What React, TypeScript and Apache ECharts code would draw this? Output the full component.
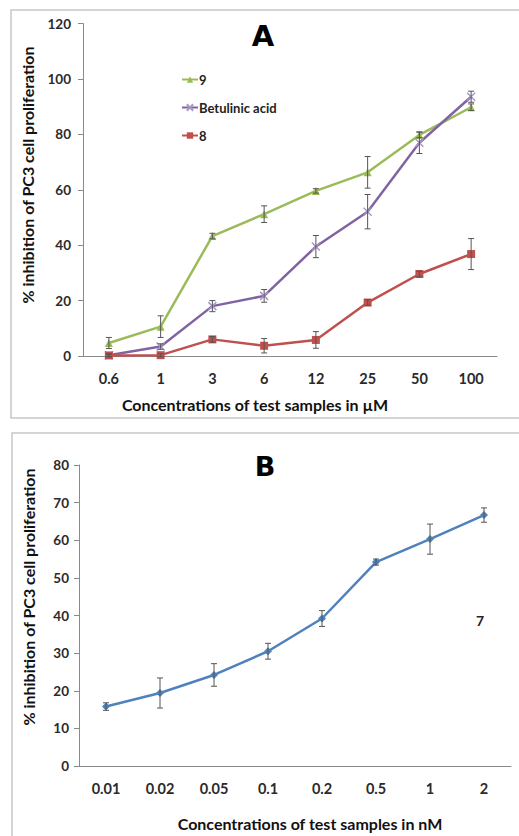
import React, { useEffect, useRef } from "react";
import * as echarts from "echarts";

const catsA = ["0.6", "1", "3", "6", "12", "25", "50", "100"];
const s9 = [4.7, 10.6, 43.3, 51.2, 59.6, 66.3, 79.8, 89.8];
const s9Err = [2.0, 3.9, 1.0, 3.0, 0.8, 5.7, 1.0, 1.2];
const sBA = [0.3, 3.4, 18, 21.7, 39.5, 52.1, 77, 93.6];
const sBAErr = [0.5, 1, 2, 2.3, 4, 6.2, 3.9, 2];
const s8 = [0.2, 0.3, 6, 3.7, 5.8, 19.3, 29.6, 36.8];
const s8Err = [0.5, 0.5, 1, 2.6, 3, 1, 1, 5.6];
const catsB = ["0.01", "0.02", "0.05", "0.1", "0.2", "0.5", "1", "2"];
const s7 = [15.8, 19.4, 24.2, 30.5, 39.2, 54.2, 60.3, 66.7];
const s7Err = [1, 4, 3, 2.1, 2.1, 0.8, 4, 1.9];

const FONT = "Lato";
const TXT = "#2a2a2a";
const AX = "#8a8a8a";

function errData(vals: number[], errs: number[]) {
  return vals.map((v, i) => [i, v - errs[i], v + errs[i]]);
}

function errSeries(xi: number, vals: number[], errs: number[]) {
  return {
    type: "custom",
    xAxisIndex: xi,
    yAxisIndex: xi,
    z: 5,
    silent: true,
    data: errData(vals, errs),
    renderItem: (params: any, api: any) => {
      const x = api.value(0);
      const lo = api.coord([x, api.value(1)]);
      const hi = api.coord([x, api.value(2)]);
      const st = { stroke: "#555", lineWidth: 1 };
      return {
        type: "group",
        children: [
          { type: "line", shape: { x1: lo[0], y1: lo[1], x2: hi[0], y2: hi[1] }, style: st },
          { type: "line", shape: { x1: lo[0] - 3, y1: lo[1], x2: lo[0] + 3, y2: lo[1] }, style: st },
          { type: "line", shape: { x1: hi[0] - 3, y1: hi[1], x2: hi[0] + 3, y2: hi[1] }, style: st },
        ],
      };
    },
  };
}

function xAxis(gi: number, cats: string[]) {
  return {
    type: "category",
    gridIndex: gi,
    data: cats,
    boundaryGap: true,
    axisLine: { lineStyle: { color: AX, width: 1 } },
    axisTick: { length: 5, lineStyle: { color: AX } },
    axisLabel: { color: TXT, fontFamily: FONT, fontWeight: "bold", fontSize: 14.5, margin: 15 },
  };
}

function yAxis(gi: number, max: number, interval: number, margin: number) {
  return {
    type: "value",
    gridIndex: gi,
    min: 0,
    max,
    interval,
    splitLine: { show: false },
    axisLine: { show: true, lineStyle: { color: AX, width: 1 } },
    axisTick: { show: true, length: 5, lineStyle: { color: AX } },
    axisLabel: { color: TXT, fontFamily: FONT, fontWeight: "bold", fontSize: 13.5, margin },
  };
}

const crossPath = "path://M0,0L10,10M10,0L0,10";

export default function App() {
  const ref = useRef<HTMLDivElement>(null);
  useEffect(() => {
    if (!ref.current) return;
    const chart = echarts.init(ref.current, null, { renderer: "svg" });
    const titleStyle = { fontFamily: FONT, fontWeight: "bold", fontSize: 16, fill: "#111" };
    chart.setOption({
      animation: false,
      backgroundColor: "#fff",
      grid: [
        { left: 83, right: 22, top: 23.6, height: 332.4 },
        { left: 79, right: 8, top: 465, height: 301 },
      ],
      xAxis: [xAxis(0, catsA), xAxis(1, catsB)],
      yAxis: [yAxis(0, 120, 20, 12), yAxis(1, 80, 10, 10)],
      legend: {
        data: ["9", "Betulinic acid", "8"],
        orient: "vertical",
        left: 176,
        top: 68,
        itemWidth: 16,
        itemHeight: 8,
        itemGap: 15,
        textStyle: { fontFamily: FONT, fontWeight: "bold", fontSize: 13, color: "#222", padding: [0, 0, 0, -4] },
      },
      series: [
        {
          name: "9",
          type: "line",
          data: s9,
          xAxisIndex: 0,
          yAxisIndex: 0,
          symbol: "triangle",
          symbolSize: 8,
          lineStyle: { color: "#9bbb59", width: 2.5 },
          itemStyle: { color: "#9bbb59" },
        },
        {
          name: "Betulinic acid",
          type: "line",
          data: sBA,
          xAxisIndex: 0,
          yAxisIndex: 0,
          symbol: crossPath,
          symbolSize: 8,
          lineStyle: { color: "#8064a2", width: 2.5 },
          itemStyle: { color: "#8064a2", borderColor: "#a898c4", borderWidth: 1.5 },
        },
        {
          name: "8",
          type: "line",
          data: s8,
          xAxisIndex: 0,
          yAxisIndex: 0,
          symbol: "rect",
          symbolSize: 8,
          lineStyle: { color: "#c0504d", width: 2.5 },
          itemStyle: { color: "#c0504d" },
        },
        {
          name: "7",
          type: "line",
          data: s7,
          xAxisIndex: 1,
          yAxisIndex: 1,
          symbol: "diamond",
          symbolSize: 8,
          lineStyle: { color: "#4f81bd", width: 2.5 },
          itemStyle: { color: "#4f81bd" },
        },
        errSeries(0, s9, s9Err),
        errSeries(0, sBA, sBAErr),
        errSeries(0, s8, s8Err),
        errSeries(1, s7, s7Err),
      ],
      graphic: [
        { type: "rect", shape: { x: 11, y: 10, width: 520, height: 408 }, style: { fill: "none", stroke: "#c8c8c8", lineWidth: 1.5 }, z: -1 },
        { type: "rect", shape: { x: 12, y: 433, width: 520, height: 420 }, style: { fill: "none", stroke: "#c8c8c8", lineWidth: 1.5 }, z: -1 },
        { type: "text", x: 263, y: 36, style: { text: "A", fontFamily: "DejaVu Sans", fontWeight: 900, fontSize: 29, fill: "#000", align: "center", verticalAlign: "middle" } },
        { type: "text", x: 265, y: 466, style: { text: "B", fontFamily: "DejaVu Sans", fontWeight: 900, fontSize: 27, fill: "#000", align: "center", verticalAlign: "middle" } },
        { type: "text", x: 480, y: 620, style: { text: "7", fontFamily: FONT, fontWeight: "bold", fontSize: 14, fill: "#222", align: "center", verticalAlign: "middle" } },
        { type: "text", x: 27, y: 175, rotation: Math.PI / 2, style: { ...titleStyle, text: "% inhibition of PC3 cell proliferation", align: "center", verticalAlign: "middle" } },
        { type: "text", x: 28, y: 597, rotation: Math.PI / 2, style: { ...titleStyle, text: "% inhibition of PC3 cell proliferation", align: "center", verticalAlign: "middle" } },
        { type: "text", x: 255, y: 404, style: { ...titleStyle, text: "Concentrations of test samples in µM", align: "center", verticalAlign: "middle" } },
        { type: "text", x: 310, y: 823, style: { ...titleStyle, text: "Concentrations of test samples in nM", align: "center", verticalAlign: "middle" } },
      ],
    });
    return () => chart.dispose();
  }, []);
  return <div ref={ref} style={{ position: "absolute", left: 0, top: 0, width: 519, height: 836 }} />;
}
